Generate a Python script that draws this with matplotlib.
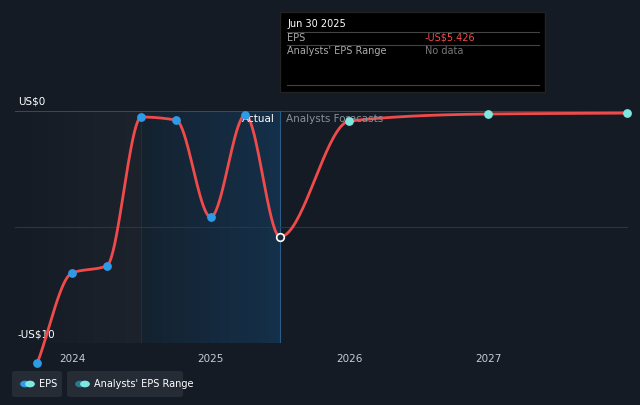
import numpy as np
import matplotlib.pyplot as plt
from matplotlib.patches import Rectangle, FancyBboxPatch

# --- Data ---
actual_x = [2023.75, 2024.0, 2024.25, 2024.5, 2024.75, 2025.0, 2025.25, 2025.5]
actual_eps = [-10.86, -6.98, -6.68, -0.26, -0.39, -4.57, -0.17, -5.426]
forecast_x = [2025.5, 2026.0, 2027.0, 2028.0]
forecast_eps = [-5.426, -0.43, -0.13, -0.09]
year_ticks = [2024, 2025, 2026, 2027]


def pchip(x, y, n=40):
    x = np.asarray(x, float); y = np.asarray(y, float)
    h = np.diff(x); d = np.diff(y) / h
    m = np.zeros_like(y)
    for i in range(1, len(y) - 1):
        if d[i - 1] * d[i] > 0:
            w1 = 2 * h[i] + h[i - 1]; w2 = h[i] + 2 * h[i - 1]
            m[i] = (w1 + w2) / (w1 / d[i - 1] + w2 / d[i])
    m[0] = d[0]; m[-1] = d[-1]
    xs, ys = [], []
    for i in range(len(h)):
        t = np.linspace(0, 1, n)
        h00 = 2*t**3 - 3*t**2 + 1; h10 = t**3 - 2*t**2 + t
        h01 = -2*t**3 + 3*t**2; h11 = t**3 - t**2
        xs.append(x[i] + t * h[i])
        ys.append(h00*y[i] + h10*h[i]*m[i] + h01*y[i+1] + h11*h[i]*m[i+1])
    return np.concatenate(xs), np.concatenate(ys)


bg = '#151b24'
fig = plt.figure(figsize=(6.4, 4.05), dpi=100, facecolor=bg)
ax = fig.add_axes([15/640, 1 - 343/405, 613/640, 232/405])
ax.set_facecolor(bg)
x0 = 2024.0 - 57/138.7
x1 = x0 + 613/138.7
ax.set_xlim(x0, x1)
ax.set_ylim(-10.0, 0)

# shaded past region
grad = np.linspace(0, 1, 100).reshape(1, -1)
cm = plt.matplotlib.colors.LinearSegmentedColormap
ax.imshow(grad, extent=[x0, 2024.5, -10, 0], aspect='auto', cmap=cm.from_list('g', [bg, '#1c232d']), zorder=0)
ax.imshow(grad, extent=[2024.5, 2025.5, -10, 0], aspect='auto', cmap=cm.from_list('g2', ['#15222f', '#14304a']), zorder=0)
ax.axvline(2025.5, color='#2a5d86', lw=0.8, zorder=1)
ax.axvline(2024.5, color='#1e2e3e', lw=0.8, zorder=1)

ax.axhline(0, color='#4a4f57', lw=1.2, zorder=1)
ax.axhline(-5, color='#2f353d', lw=0.8, zorder=1)

xs, ys = pchip(actual_x + forecast_x[1:], actual_eps + forecast_eps[1:])
ax.plot(xs, ys, color='#f04b4b', lw=2, zorder=3, clip_on=False)
ax.scatter(actual_x[:-1], actual_eps[:-1], s=28, color='#2d9be8', zorder=4, clip_on=False)
ax.scatter(forecast_x[1:], forecast_eps[1:], s=28, color='#7ee8e0', zorder=4, clip_on=False)
ax.scatter([actual_x[-1]], [actual_eps[-1]], s=30, color='#1d2a3a', edgecolor='white', lw=1.2, zorder=5)

for s in ax.spines.values():
    s.set_visible(False)
ax.set_yticks([])
ax.set_xticks(year_ticks)
ax.set_xticklabels([str(y) for y in year_ticks], color='#c8ccd2', fontsize=7.5)
ax.tick_params(axis='x', length=0, pad=8)

ax.text(x0 + 0.02, 0.2, 'US$0', color='white', fontsize=7.5, va='bottom')
ax.text(x0 + 0.02, -9.65, '-US$10', color='white', fontsize=7.5, va='center', zorder=2)
ax.text(2025.46, -0.35, 'Actual', color='white', fontsize=7.5, ha='right', va='center')
ax.text(2025.54, -0.35, 'Analysts Forecasts', color='#8a9099', fontsize=7.5, ha='left', va='center')

# tooltip
fig.patches.append(Rectangle((280/640, 1 - 92/405), 265/640, 80/405, transform=fig.transFigure, facecolor='black', edgecolor='#222', zorder=10))
fig.text(287/640, 1 - 24/405, 'Jun 30 2025', color='white', fontsize=7, va='center', zorder=11)
for yy in [32, 45, 85]:
    fig.lines.append(plt.Line2D([287/640, 539/640], [1 - yy/405]*2, transform=fig.transFigure, color='#444', lw=0.8, zorder=11))
fig.text(287/640, 1 - 38/405, 'EPS', color='#aaa', fontsize=7, va='center', zorder=11)
fig.text(425/640, 1 - 38/405, '-US$5.426', color='#f04b4b', fontsize=7, va='center', zorder=11)
fig.text(287/640, 1 - 51/405, "Analysts' EPS Range", color='#aaa', fontsize=7, va='center', zorder=11)
fig.text(425/640, 1 - 51/405, 'No data', color='#777', fontsize=7, va='center', zorder=11)

# legend
for (lx, w, label, c1, c2) in [(12, 50, 'EPS', '#2d9be8', '#7ee8e0'), (67, 116, "Analysts' EPS Range", '#2a7a8a', '#7ee8e0')]:
    fig.patches.append(FancyBboxPatch((lx/640, 1 - 397/405), w/640, 26/405, boxstyle='round,pad=0,rounding_size=0.005', transform=fig.transFigure, facecolor='#252c36', edgecolor='none'))
    fig.patches.append(plt.Circle(((lx + 13)/640, 1 - 384/405), 0.0065, transform=fig.transFigure, color=c1))
    fig.patches.append(plt.Circle(((lx + 18)/640, 1 - 384/405), 0.0065, transform=fig.transFigure, color=c2))
    fig.text((lx + 27)/640, 1 - 384/405, label, color='white', fontsize=7, va='center')

fig.savefig('out.png', dpi=100, facecolor=bg)
